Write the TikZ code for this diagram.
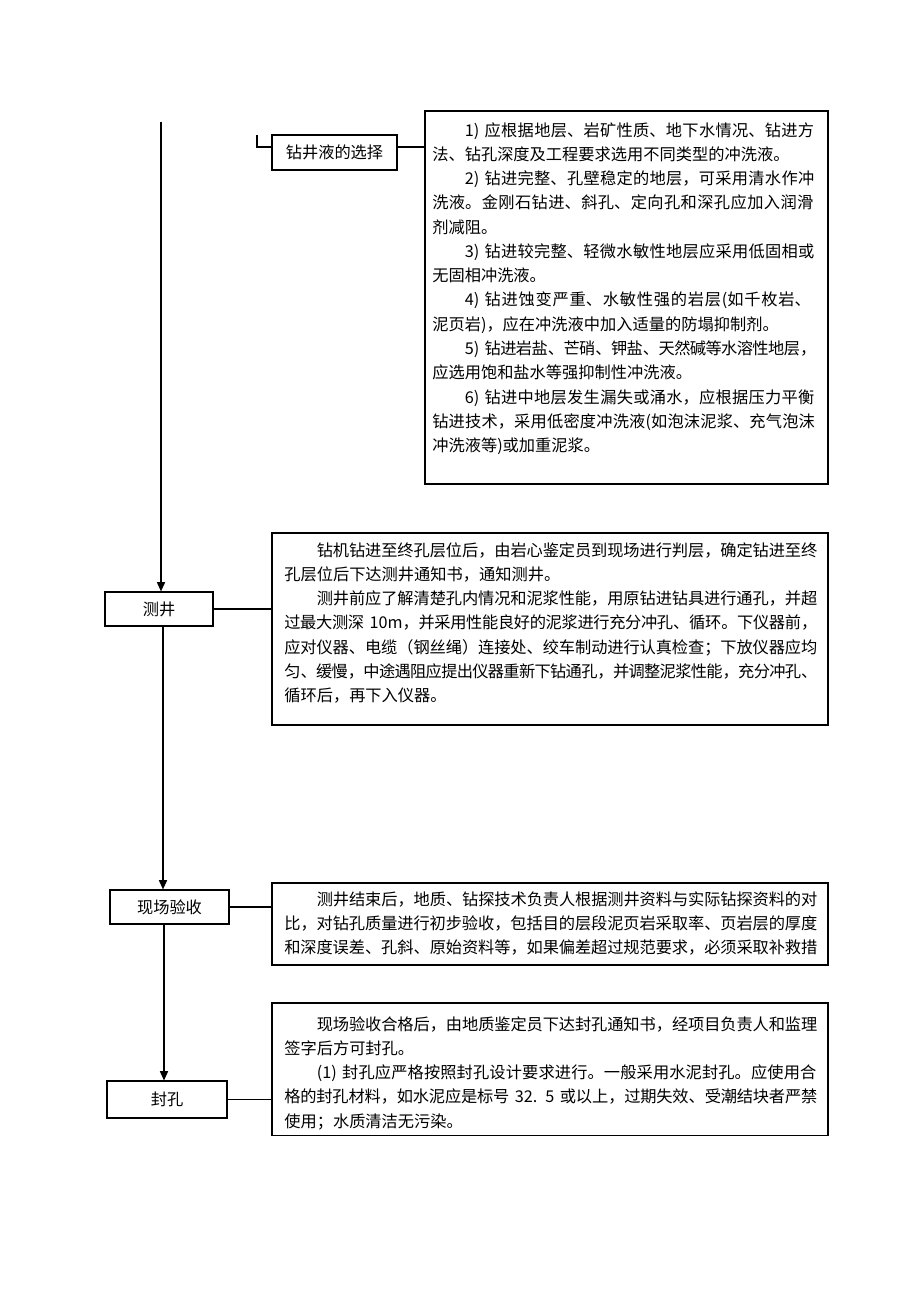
\documentclass[tikz,border=0pt]{standalone}
\usepackage{fontspec}
\setmainfont{Noto Sans CJK SC}
\usetikzlibrary{arrows.meta}
\XeTeXlinebreaklocale "zh"
\XeTeXlinebreakskip=0pt plus 3pt minus 1pt
\tolerance=9999
\hbadness=10000
\hfuzz=6pt
\begin{document}
\begin{tikzpicture}[x=0.6467pt,y=-0.6467pt,
  every node/.style={font=\fontsize{10.5pt}{15.7pt}\selectfont},
  lbl/.style={draw, line width=0.7pt, inner sep=0pt},
  frame/.style={draw, line width=0.7pt, inner sep=0pt},
  para/.style={anchor=base west, inner sep=0pt},
  conn/.style={line width=0.7pt},
  arr/.style={line width=0.9pt, -{Triangle[length=6pt,width=5.2pt]}}]
\useasboundingbox (0,0) rectangle (920,1302);
% label boxes
\node[lbl, minimum width=80.8pt, minimum height=22.6pt] (zj) at (334.5,152.5) {钻井液的选择};
\node[lbl, minimum width=69.8pt, minimum height=22pt] (cj) at (159,609) {测井};
\node[lbl, minimum width=77pt, minimum height=22pt] (xc) at (169.5,907) {现场验收};
\node[lbl, minimum width=77.6pt, minimum height=23.9pt] (fk) at (167,1099.5) {封孔};
% frames
\node[frame, minimum width=260.6pt, minimum height=241.2pt] (b1) at (626.5,297.5) {};
\node[frame, minimum width=359.6pt, minimum height=124.2pt] (b2) at (550,629) {};
\node[frame, minimum width=359.6pt, minimum height=53pt] (b3) at (550,924) {};
\node[frame, minimum width=359.6pt, minimum height=85.4pt] (b4) at (550,1069) {};
% texts
\node[para, text width=248.3pt] (t1) at (432,136) {%
\hspace*{2em}1) 应根据地层、岩矿性质、地下水情况、钻进方\linebreak 法、钻孔深度及工程要求选用不同类型的冲洗液。\par
\hspace*{2em}2) 钻进完整、孔壁稳定的地层，可采用清水作冲\linebreak 洗液。金刚石钻进、斜孔、定向孔和深孔应加入润滑\linebreak 剂减阻。\par
\hspace*{2em}3) 钻进较完整、轻微水敏性地层应采用低固相或\linebreak 无固相冲洗液。\par
\hspace*{2em}4) 钻进蚀变严重、水敏性强的岩层(如千枚岩、\linebreak 泥页岩)，应在冲洗液中加入适量的防塌抑制剂。\par
\hspace*{2em}5) 钻进岩盐、芒硝、钾盐、天然碱等水溶性地层，\linebreak 应选用饱和盐水等强抑制性冲洗液。\par
\hspace*{2em}6) 钻进中地层发生漏失或涌水，应根据压力平衡\linebreak 钻进技术，采用低密度冲洗液(如泡沫泥浆、充气泡沫\linebreak 冲洗液等)或加重泥浆。\par};
\node[para, text width=344.7pt] (t2) at (284,556) {%
\hspace*{2em}钻机钻进至终孔层位后，由岩心鉴定员到现场进行判层，确定钻进至终\linebreak 孔层位后下达测井通知书，通知测井。\par
\hspace*{2em}测井前应了解清楚孔内情况和泥浆性能，用原钻进钻具进行通孔，并超\linebreak 过最大测深 10m，并采用性能良好的泥浆进行充分冲孔、循环。下仪器前，\linebreak 应对仪器、电缆（钢丝绳）连接处、绞车制动进行认真检查；下放仪器应均\linebreak 匀、缓慢，中途遇阻应提出仪器重新下钻通孔，并调整泥浆性能，充分冲孔、\linebreak 循环后，再下入仪器。\par};
\node[para, text width=344.7pt] (t3) at (284,905) {%
\parfillskip=0pt
\hspace*{2em}测井结束后，地质、钻探技术负责人根据测井资料与实际钻探资料的对\linebreak 比，对钻孔质量进行初步验收，包括目的层段泥页岩采取率、页岩层的厚度\linebreak 和深度误差、孔斜、原始资料等，如果偏差超过规范要求，必须采取补救措\par};
\node[para, text width=344.7pt] (t4) at (284,1030) {%
\hspace*{2em}现场验收合格后，由地质鉴定员下达封孔通知书，经项目负责人和监理\linebreak 签字后方可封孔。\par
\hspace*{2em}(1) 封孔应严格按照封孔设计要求进行。一般采用水泥封孔。应使用合\linebreak 格的封孔材料，如水泥应是标号 32. 5 或以上，过期失效、受潮结块者严禁\linebreak 使用；水质清洁无污染。\par};
% coordinates
\coordinate (top) at (161,122);
\coordinate (bk) at (257,135);
\coordinate (yy) at (0,147);
\coordinate (m2) at (163,0);
\coordinate (m3) at (164,0);
% connectors
\draw[arr] (top) -- (top |- cj.north);
\draw[conn] (bk) |- (zj.west |- yy);
\draw[conn] (zj.east |- yy) -- (b1.west |- yy);
\draw[conn] (cj.east) -- (b2.west |- cj.east);
\draw[arr] (cj.south -| m2) -- (xc.north -| m2);
\draw[conn] (xc.east) -- (b3.west |- xc.east);
\draw[arr] (xc.south -| m3) -- (fk.north -| m3);
\draw[conn] (fk.east) -- (b4.west |- fk.east);
\end{tikzpicture}
\end{document}
